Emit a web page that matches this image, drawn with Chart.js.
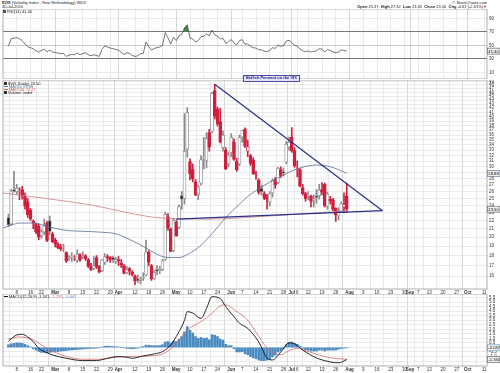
<!DOCTYPE html>
<html>
<head>
<meta charset="utf-8">
<title>$VIX daily</title>
<script src="https://cdn.jsdelivr.net/npm/chart.js@4.4.1/dist/chart.umd.min.js"></script>
<style>
  body { margin: 0; background: #fff; }
  #page { position: relative; width: 500px; height: 373px; overflow: hidden;
          font-family: "Liberation Sans", Arial, sans-serif; color: #222; }
  #page canvas { position: absolute; left: 0; }
  .t { position: absolute; font-size: 4px; line-height: 4px; white-space: nowrap; z-index: 2; }
  .sq { display: inline-block; width: 3px; height: 3px; margin-right: 1px; }
  .ln { display: inline-block; width: 4px; height: 0; border-top: 1px solid; margin-right: 1px; vertical-align: 1px; }
  #note { left: 243px; top: 74.5px; padding: 0.5px 2px; border: 0.8px solid #4b4ba3; background: #e4e4f5;
          color: #22229a; font-weight: bold; }
</style>
</head>
<body>
<div id="page">
  <canvas id="rsiChart" width="500" height="70" style="top:9px"></canvas>
  <canvas id="priceChart" width="500" height="216" style="top:80px"></canvas>
  <canvas id="macdChart" width="500" height="79" style="top:294px"></canvas>

  <div class="t" style="left:2px;top:1px"><b>$VIX</b> (Volatility Index - New Methodology) INDX</div>
  <div class="t" style="left:2px;top:5px">30-Jul-2010</div>
  <div class="t" style="right:13px;top:1px">© StockCharts.com</div>
  <div class="t" style="right:13px;top:5px"><b>Open</b> 25.37 &nbsp;<b>High</b> 27.32 &nbsp;<b>Low</b> 23.05 &nbsp;<b>Close</b> 23.50 &nbsp;<b>Chg</b> -0.63 (-2.61%)<span style="color:#d01e3c">▼</span></div>
  <div class="t" style="left:3px;top:10px"><span class="sq" style="background:#555"></span>RSI(14) 41.40</div>

  <div class="t" style="left:4px;top:82px"><span class="sq" style="background:#333"></span>$VIX (Daily) 23.50</div>
  <div class="t" style="left:4px;top:85px;color:#5b6b9b"><span class="ln"></span>MA(50) 28.88</div>
  <div class="t" style="left:4px;top:88px;color:#c06464"><span class="ln"></span>MA(200) 23.27</div>
  <div class="t" style="left:4px;top:91px"><span class="sq" style="background:#333"></span>Volume undef</div>

  <div class="t" id="note">Bullish Pennant on the VIX</div>

  <div class="t" style="left:4px;top:295px"><span class="ln" style="color:#111"></span>MACD(12,26,9) -1.341, <span style="color:#d46a6a">-1.295</span>, <span style="color:#4a8ac2">-0.047</span></div>
</div>

<script>
// trading days on the date axis, Feb 1 to Oct 12 2010 (market holidays left out)
const holidays = ['2010-02-15', '2010-04-02', '2010-05-31', '2010-07-05', '2010-09-06'];
const days = [];
for (let d = new Date(Date.UTC(2010, 1, 1)); d <= new Date(Date.UTC(2010, 9, 12)); d.setUTCDate(d.getUTCDate() + 1)) {
  const iso = d.toISOString().slice(0, 10);
  const wd = d.getUTCDay();
  if (wd !== 0 && wd !== 6 && !holidays.includes(iso)) days.push(iso);
}

// date axis labels
const tickDates = ['2010-02-08', '2010-02-16', '2010-02-22', '2010-03-01', '2010-03-08', '2010-03-15', '2010-03-22',
  '2010-03-29', '2010-04-01', '2010-04-12', '2010-04-19', '2010-04-26', '2010-05-03', '2010-05-10', '2010-05-17',
  '2010-05-24', '2010-06-01', '2010-06-07', '2010-06-14', '2010-06-21', '2010-06-28', '2010-07-01', '2010-07-06',
  '2010-07-12', '2010-07-19', '2010-07-26', '2010-08-02', '2010-08-09', '2010-08-16', '2010-08-23', '2010-08-30',
  '2010-09-01', '2010-09-07', '2010-09-13', '2010-09-20', '2010-09-27', '2010-10-01', '2010-10-11'];
const tickNames = ['8', '16', '22', 'Mar', '8', '15', '22', '29', 'Apr', '12', '19', '26', 'May', '10', '17', '24',
  'Jun', '7', '14', '21', '28', 'Jul', '6', '12', '19', '26', 'Aug', '9', '16', '23', '30', 'Sep', '7', '13', '20',
  '27', 'Oct', '11'];

// daily candles, Feb 1 .. Jul 30 (first two days not on the chart)
const opens = [null, null,
  22.40, 21.60, 26.20, 26.00, 25.90, 26.30, 25.30, 24.50, 23.40, 21.90, 21.60, 21.30, 20.20, 20.60, 21.70, 22.00, 20.40,
  19.70, 19.20, 18.90, 18.80, 18.30, 17.70, 17.90, 17.80, 17.50, 18.10, 17.90, 18.00, 17.60, 16.90, 16.70, 17.80, 16.90, 16.50, 17.30, 17.90, 17.80, 17.80, 17.40,
  17.60, 17.20, 17.00, 16.30, 16.70, 16.40, 16.00, 15.70, 15.60, 15.80, 16.10, 18.40, 17.00, 15.80, 16.60, 16.50, 16.60, 17.60, 22.50, 21.00, 18.50,
  21.80, 21.20, 25.40, 25.00, 33.20, 30.90, 29.50, 27.50, 25.60, 27.30, 31.50, 31.00, 36.50, 36.80, 46.50, 41.80, 38.90, 33.50, 33.00, 30.50,
  32.50, 34.50, 31.00, 30.50, 35.60, 37.20, 32.80, 32.00, 31.20, 28.60, 27.80, 26.50, 25.70, 25.20, 24.50, 25.80, 27.80, 27.40, 29.50, 29.10, 30.80, 33.60,
  35.50, 32.90, 29.40, 29.50, 26.60, 25.70, 25.40, 25.30, 24.70, 25.30, 25.40, 26.30, 27.10, 23.90, 24.90, 24.80, 23.60, 22.60, 23.20, 23.80, 25.37];
const highs = [null, null,
  22.85, 26.35, 29.22, 27.10, 26.60, 26.80, 25.80, 25.00, 23.60, 22.10, 21.70, 21.60, 20.90, 22.20, 21.90, 22.60, 20.60,
  19.90, 19.40, 19.20, 19.20, 18.40, 18.00, 18.30, 18.00, 18.60, 18.20, 18.40, 18.10, 17.70, 17.20, 17.90, 18.00, 17.00, 17.60, 18.20, 18.10, 17.90, 17.95, 17.80,
  17.90, 17.60, 17.10, 16.90, 16.80, 16.50, 16.10, 16.10, 15.90, 16.30, 19.67, 18.50, 17.10, 16.50, 17.00, 16.90, 17.60, 23.10, 22.90, 21.10, 22.30,
  22.00, 24.10, 26.00, 40.71, 42.15, 31.40, 30.50, 27.90, 27.00, 32.00, 35.50, 36.50, 37.20, 46.00, 48.20, 42.30, 42.00, 36.80, 33.50, 32.50,
  36.30, 35.20, 31.50, 36.00, 37.00, 37.50, 35.00, 32.20, 31.60, 29.20, 28.00, 27.00, 26.00, 25.60, 26.00, 28.00, 28.20, 29.90, 30.00, 29.80, 34.70, 35.60,
  37.58, 33.50, 31.00, 29.70, 27.10, 25.90, 26.00, 25.50, 25.50, 26.30, 27.10, 27.40, 27.30, 25.90, 25.30, 25.00, 23.70, 23.70, 24.50, 25.80, 27.32];
const lows = [null, null,
  21.25, 21.40, 25.90, 25.60, 24.80, 24.90, 23.50, 22.40, 22.00, 21.00, 20.40, 19.70, 19.90, 20.30, 19.50, 20.30, 19.40,
  18.90, 18.70, 18.50, 18.40, 17.30, 17.50, 17.40, 17.50, 17.30, 17.40, 17.70, 17.50, 16.80, 16.50, 16.60, 16.70, 16.30, 16.40, 17.10, 17.40, 17.30, 17.30, 17.20,
  17.00, 16.80, 16.20, 16.20, 16.10, 16.00, 15.23, 15.40, 15.30, 15.60, 16.00, 17.00, 15.60, 15.70, 16.10, 16.20, 16.50, 17.50, 20.80, 18.40, 18.40,
  20.10, 21.00, 23.50, 24.20, 31.70, 27.80, 27.50, 25.40, 24.80, 27.00, 29.60, 29.80, 32.80, 36.50, 39.50, 37.90, 34.40, 32.80, 29.50, 30.00,
  31.80, 31.10, 29.20, 30.20, 34.50, 33.50, 31.80, 30.20, 28.70, 27.90, 25.60, 25.50, 24.80, 23.50, 23.90, 25.20, 26.50, 27.20, 28.20, 28.40, 30.50, 33.00,
  32.60, 29.90, 28.30, 26.70, 25.50, 24.60, 24.80, 23.80, 23.80, 24.30, 24.90, 25.50, 23.80, 23.50, 24.20, 23.30, 21.90, 22.10, 23.10, 23.00, 23.05];
const closes = [null, null,
  21.48, 26.08, 26.11, 26.51, 26.00, 25.40, 23.96, 22.73, 22.25, 21.72, 20.63, 20.02, 20.64, 21.37, 19.63, 20.67, 19.50,
  19.26, 18.83, 18.72, 18.83, 17.42, 17.79, 17.92, 17.82, 18.10, 17.58, 18.00, 17.69, 16.91, 16.62, 16.97, 16.87, 16.35, 17.55, 17.88, 17.77, 17.59, 17.59, 17.59,
  17.47, 17.02, 16.24, 16.62, 16.46, 16.14, 15.58, 15.59, 15.72, 15.89, 18.36, 17.34, 15.73, 16.32, 16.47, 16.62, 17.47, 22.81, 21.08, 18.44, 22.05,
  20.19, 23.84, 24.91, 32.80, 40.95, 28.84, 28.01, 25.52, 26.68, 31.24, 31.72, 35.32, 33.55, 45.79, 40.10, 38.32, 34.61, 35.93, 29.68, 32.07,
  35.54, 31.30, 29.46, 35.48, 36.93, 33.70, 33.68, 30.57, 28.79, 28.58, 25.87, 25.97, 25.05, 24.88, 25.66, 27.74, 27.05, 29.74, 28.53, 29.00, 34.13, 34.54,
  32.86, 30.12, 29.65, 26.84, 25.71, 24.98, 25.43, 24.56, 24.89, 25.14, 26.25, 25.97, 23.93, 25.64, 24.63, 23.47, 22.73, 23.19, 24.25, 24.13, 23.50];

// moving averages, read at a few dates
const ma50Dates = ['2010-02-01', '2010-02-04', '2010-02-09', '2010-02-17', '2010-02-25', '2010-03-05', '2010-03-15',
  '2010-03-23', '2010-03-31', '2010-04-09', '2010-04-16', '2010-04-23', '2010-04-28', '2010-05-04', '2010-05-07',
  '2010-05-14', '2010-05-20', '2010-05-27', '2010-06-04', '2010-06-10', '2010-06-28', '2010-07-07', '2010-07-15',
  '2010-07-22', '2010-07-30'];
const ma50Vals = [21.1, 21.45, 21.7, 21.7, 21.2, 20.8, 20.7, 20.6, 20.4, 19.6, 18.8, 18.0, 17.8, 17.8, 18.1, 19.1,
  20.4, 22.4, 24.2, 25.6, 28.6, 29.8, 30.3, 30.0, 28.9];
const ma200Dates = ['2010-02-01', '2010-03-16', '2010-04-27', '2010-05-19', '2010-06-21', '2010-07-30'];
const ma200Vals = [25.8, 24.2, 22.3, 22.2, 22.6, 23.3];

// pennant trendlines
const topLineDates = ['2010-05-21', '2010-08-18'];
const topLineVals = [48.2, 23.3];
const baseLineDates = ['2010-05-03', '2010-08-18'];
const baseLineVals = [22.2, 23.3];

// RSI(14), daily
const rsi = [null, null,
  49, 60, 60.5, 61.5, 59.5, 57, 52, 48, 46.5, 45, 42, 40, 42.5, 44.5, 40, 43, 40,
  39.5, 38.5, 37.5, 38, 33.5, 35.5, 36.5, 36, 38.5, 36, 38, 39, 36, 34.5, 36, 35, 33.5, 44, 49, 47.5, 46, 45, 44,
  43, 39.5, 36.5, 39, 38, 35, 33.5, 34.5, 37.5, 38, 55, 48, 43, 45.5, 46.5, 47.5, 50, 69, 61, 52, 62,
  57, 64, 66, 76, 80.5, 61, 59.5, 55, 57, 63, 63.5, 67, 64, 72.5, 65.5, 63.5, 59.5, 60.5, 53, 55.5,
  58.5, 53.5, 51, 57, 58.5, 52, 52, 48.5, 46.5, 46, 43.5, 43.5, 41.5, 40.8, 42.5, 46.5, 45.5, 50.5, 48.5, 49.5, 56.5, 57.5,
  54.5, 50, 49, 44.5, 42, 40.5, 41.8, 40, 41, 41.8, 45, 44.5, 40, 44, 42.3, 40.3, 39, 40.2, 43, 42.7, 41.4];

// MACD(12,26,9)
const macdDates = ['2010-02-03', '2010-02-08', '2010-02-10', '2010-02-12', '2010-02-17', '2010-02-19', '2010-02-23',
  '2010-02-26', '2010-03-05', '2010-03-15', '2010-03-22', '2010-03-26', '2010-04-01', '2010-04-07', '2010-04-09',
  '2010-04-15', '2010-04-21', '2010-04-26', '2010-04-29', '2010-05-03', '2010-05-06', '2010-05-07', '2010-05-11',
  '2010-05-14', '2010-05-18', '2010-05-20', '2010-05-25', '2010-05-27', '2010-06-02', '2010-06-04', '2010-06-09',
  '2010-06-15', '2010-06-18', '2010-06-22', '2010-06-25', '2010-06-30', '2010-07-02', '2010-07-08', '2010-07-15',
  '2010-07-22', '2010-07-27', '2010-07-30'];
const macdVals = [0.7, 1.38, 1.45, 1.15, 0.64, -0.1, -0.46, -0.83, -1.2, -1.45, -1.45, -1.2, -1.0, -1.08, -1.2,
  -0.94, -0.72, -0.46, 0.28, 1.2, 3.0, 3.95, 3.8, 3.2, 4.3, 5.6, 5.4, 4.5, 3.4, 2.67, 2.1, 0.6, -1.16, -1.38, -0.5,
  0.5, 0.4, -0.28, -1.16, -1.6, -1.7, -1.34];
const signalDates = ['2010-02-03', '2010-02-09', '2010-02-17', '2010-02-25', '2010-03-05', '2010-03-15', '2010-03-23',
  '2010-03-31', '2010-04-09', '2010-04-19', '2010-04-26', '2010-04-30', '2010-05-07', '2010-05-14', '2010-05-20',
  '2010-05-25', '2010-05-27', '2010-06-03', '2010-06-08', '2010-06-10', '2010-06-15', '2010-06-21', '2010-06-25',
  '2010-06-30', '2010-07-06', '2010-07-09', '2010-07-15', '2010-07-22', '2010-07-30'];
const signalVals = [0.93, 1.16, 0.83, -0.28, -1.0, -1.3, -1.3, -1.08, -1.0, -0.94, -0.72, 0.09, 1.93, 2.85, 3.77,
  4.6, 4.7, 3.95, 3.3, 2.6, 1.2, -0.35, -0.8, -0.35, -0.1, -0.35, -0.75, -1.15, -1.3];
const histogram = [null, null,
  0.3, 0.4, 0.45, 0.5, 0.5, 0.45, 0.35, 0.2, 0.05, -0.15, -0.3, -0.45, -0.55, -0.55, -0.6, -0.55, -0.5,
  -0.45, -0.45, -0.4, -0.38, -0.35, -0.3, -0.28, -0.25, -0.22, -0.2, -0.18, -0.15, -0.12, -0.1, -0.1, -0.08, -0.05, 0.05, 0.12, 0.15, 0.12, 0.1, 0.08,
  0.05, 0.0, -0.05, -0.1, -0.12, -0.15, -0.12, -0.08, 0.05, 0.1, 0.25, 0.25, 0.2, 0.2, 0.2, 0.22, 0.3, 0.6, 0.65, 0.5, 0.7,
  0.65, 0.9, 1.2, 1.7, 2.3, 1.9, 1.6, 1.2, 1.0, 1.1, 1.0, 1.05, 0.85, 1.4, 1.35, 1.2, 0.9, 0.8, 0.35, 0.2,
  0.2, -0.15, -0.5, -0.5, -0.45, -0.7, -0.8, -1.0, -1.15, -1.25, -1.4, -1.45, -1.45, -1.4, -1.3, -1.05, -0.85, -0.5, -0.35, -0.15, 0.3, 0.55,
  0.6, 0.45, 0.35, 0.1, -0.1, -0.25, -0.3, -0.4, -0.4, -0.4, -0.3, -0.3, -0.4, -0.3, -0.3, -0.3, -0.3, -0.2, -0.12, -0.08, -0.05];

// right-hand axis labels
const rsiTicks = [10, 30, 50, 70, 90];
const priceTicks = [16, 17, 18, 19, 20, 21, 22, 23, 24, 25, 26, 27, 28, 29, 30, 31, 32, 33, 34, 35, 36, 37, 38, 39,
  40, 41, 42, 43, 44, 45, 46, 47, 48, 49];
const macdTicks = [-1.5, -1.0, -0.5, 0.0, 0.5, 1.0, 1.5, 2.0, 2.5, 3.0, 3.5, 4.0, 4.5, 5.0, 5.5];

Chart.defaults.font.family = '"Liberation Sans", Arial, sans-serif';
Chart.defaults.font.size = 4.5;
Chart.defaults.color = '#333';

const tickText = days.map(d => {
  const k = tickDates.indexOf(d);
  return k < 0 ? '' : tickNames[k];
});
const isMonth = i => /^[A-Z]/.test(tickText[i] || '');
const pts = (dates, vals) => dates.map((d, i) => ({ x: d, y: vals[i] }));

// candle colours: black when the close is up on the day before, red when down
const RED = '#d01e3c';
const candleColor = days.map((d, i) => {
  if (closes[i] == null) return null;
  const prev = closes[i - 1];
  return prev == null || closes[i] >= prev ? '#8a8a8a' : RED;
});
const bodyFill = days.map((d, i) => {
  if (closes[i] == null) return null;
  if (closes[i] > opens[i]) return '#ffffff'; // hollow
  return candleColor[i] === RED ? RED : '#1a1a1a';
});
const bodyData = days.map((d, i) => closes[i] == null ? null : [opens[i], closes[i]]);
const wickData = days.map((d, i) => closes[i] == null ? null : [lows[i], highs[i]]);

// shared date axis
function dateAxis(labelHeight) {
  return {
    type: 'category',
    offset: false,
    border: { display: false },
    grid: {
      drawTicks: false,
      lineWidth: 0.7,
      color: c => isMonth(c.tick ? c.tick.value : -1) ? '#c6c6c6' : '#e0e0e0'
    },
    ticks: {
      display: labelHeight > 0,
      autoSkip: false,
      maxRotation: 0,
      padding: 1,
      color: '#333',
      font: c => ({ size: 4.5, weight: isMonth(c.tick ? c.tick.value : -1) ? 'bold' : 'normal' }),
      callback: v => tickText[v]
    },
    afterBuildTicks: s => { s.ticks = s.ticks.filter(t => tickText[t.value]); },
    afterFit: s => { s.height = labelHeight; s.paddingLeft = 0; s.paddingRight = 0; }
  };
}

// value axis on the right side
function sideAxis(extra, tickValues, fmt) {
  return Object.assign({
    position: 'right',
    border: { display: false },
    grid: { drawTicks: false, lineWidth: 0.7, color: '#e2e2e2' },
    ticks: { autoSkip: false, padding: 2, color: '#333', font: { size: 4.5 }, callback: fmt },
    afterBuildTicks: s => { s.ticks = tickValues.map(v => ({ value: v })); },
    afterFit: s => { s.width = 13; s.paddingTop = 0; s.paddingBottom = 0; }
  }, extra);
}

// border round each panel
const frame = {
  id: 'frame',
  afterDatasetsDraw(chart) {
    const { ctx, chartArea: a } = chart;
    ctx.save();
    ctx.strokeStyle = '#9a9a9a';
    ctx.lineWidth = 0.8;
    ctx.strokeRect(a.left, a.top, a.right - a.left, a.bottom - a.top);
    ctx.restore();
  }
};

// last-value boxes on the right axis
const valueBoxes = {
  id: 'valueBoxes',
  afterDraw(chart, args, opts) {
    const { ctx, chartArea: a } = chart;
    const y = chart.scales.y;
    (opts.boxes || []).forEach(b => {
      const py = y.getPixelForValue(b.value);
      ctx.save();
      ctx.fillStyle = '#eeeeee';
      ctx.strokeStyle = b.color || '#555';
      ctx.lineWidth = 0.6;
      ctx.fillRect(a.right + 0.5, py - 3, 12.5, 6);
      ctx.strokeRect(a.right + 0.5, py - 3, 12.5, 6);
      ctx.fillStyle = '#111';
      ctx.font = '4.2px "Liberation Sans", Arial, sans-serif';
      ctx.textBaseline = 'middle';
      ctx.fillText(b.text, a.right + 1.3, py + 0.3);
      ctx.restore();
    });
  }
};

function panelOptions(scales, boxes) {
  return {
    responsive: false,
    animation: false,
    events: [],
    devicePixelRatio: 1,
    layout: { padding: { left: 3, right: 0, top: 0, bottom: 0 } },
    scales: scales,
    plugins: { legend: { display: false }, tooltip: { enabled: false }, valueBoxes: { boxes: boxes } }
  };
}

// RSI panel
new Chart(document.getElementById('rsiChart'), {
  type: 'line',
  data: {
    labels: days,
    datasets: [{
      data: rsi,
      borderColor: '#3a3a3a',
      borderWidth: 0.7,
      pointRadius: 0,
      fill: { target: { value: 70 }, above: '#3d8a4c', below: 'rgba(0,0,0,0)' }
    }]
  },
  options: panelOptions({
    x: dateAxis(0),
    y: sideAxis({
      min: 0, max: 104,
      grid: {
        drawTicks: false,
        lineWidth: c => (c.tick.value === 70 || c.tick.value === 30) ? 1 : 0.7,
        color: c => (c.tick.value === 70 || c.tick.value === 30) ? '#777777' : c.tick.value === 50 ? '#b0b0b0' : '#e2e2e2'
      }
    }, rsiTicks, v => v)
  }, [{ value: 41.4, text: '41.40' }]),
  plugins: [frame, valueBoxes]
});

// price panel: candles, moving averages and pennant lines
new Chart(document.getElementById('priceChart'), {
  type: 'bar',
  data: {
    labels: days,
    datasets: [
      { type: 'line', data: pts(topLineDates, topLineVals), borderColor: '#2b2f8c', borderWidth: 1.2, pointRadius: 0, order: 0 },
      { type: 'line', data: pts(baseLineDates, baseLineVals), borderColor: '#2b2f8c', borderWidth: 1.2, pointRadius: 0, order: 0 },
      { type: 'line', data: pts(ma50Dates, ma50Vals), borderColor: '#5b6b9b', borderWidth: 0.8, pointRadius: 0,
        tension: 0.4, cubicInterpolationMode: 'monotone', order: 0 },
      { type: 'line', data: pts(ma200Dates, ma200Vals), borderColor: '#c98080', borderWidth: 0.8, pointRadius: 0,
        tension: 0.4, cubicInterpolationMode: 'monotone', order: 0 },
      { data: bodyData, backgroundColor: bodyFill, borderColor: candleColor, borderWidth: 0.8, borderSkipped: false,
        barThickness: 3, grouped: false, order: 1 },
      { data: wickData, backgroundColor: candleColor, barThickness: 1, grouped: false, order: 2 }
    ]
  },
  options: panelOptions({
    x: dateAxis(7),
    y: sideAxis({ type: 'logarithmic', min: 14.85, max: 49.4 }, priceTicks, v => String(v))
  }, [{ value: 28.88, text: '28.88', color: '#5b6b9b' }, { value: 23.5, text: '23.50' }]),
  plugins: [frame, valueBoxes]
});

// MACD panel
new Chart(document.getElementById('macdChart'), {
  type: 'bar',
  data: {
    labels: days,
    datasets: [
      { type: 'line', data: pts(macdDates, macdVals), borderColor: '#111', borderWidth: 0.9, pointRadius: 0,
        tension: 0.4, cubicInterpolationMode: 'monotone', order: 0 },
      { type: 'line', data: pts(signalDates, signalVals), borderColor: '#d46a6a', borderWidth: 0.8, pointRadius: 0,
        tension: 0.4, cubicInterpolationMode: 'monotone', order: 0 },
      { data: histogram, backgroundColor: '#4a8ac2', barThickness: 2, order: 1 }
    ]
  },
  options: panelOptions({
    x: dateAxis(7),
    y: sideAxis({ min: -2.05, max: 5.9 }, macdTicks, v => v.toFixed(1))
  }, [{ value: -0.047, text: '-0.047', color: '#4a8ac2' }, { value: -1.341, text: '-1.341' }]),
  plugins: [frame, valueBoxes]
});
</script>
</body>
</html>
